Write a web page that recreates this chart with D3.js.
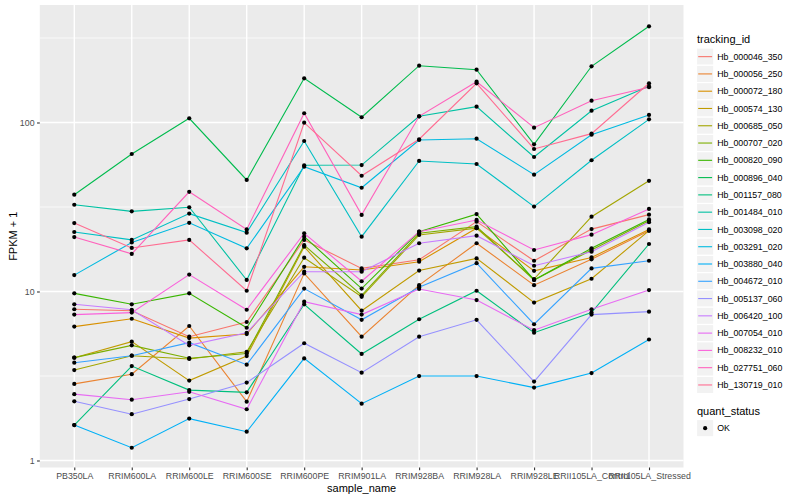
<!DOCTYPE html>
<html>
<head>
<meta charset="utf-8">
<script src="https://cdn.jsdelivr.net/npm/d3@7"></script>
<style>
  body { margin: 0; background: #ffffff; }
  svg { display: block; font-family: "Liberation Sans", Arial, Helvetica, sans-serif; }
</style>
</head>
<body>
<svg id="chart" width="800" height="500"></svg>
<script>
// ---------- data ----------
const samples = ["PB350LA", "RRIM600LA", "RRIM600LE", "RRIM600SE", "RRIM600PE", "RRIM901LA",
  "RRIM928BA", "RRIM928LA", "RRIM928LE", "RRII105LA_Control", "RRII105LA_Stressed"];

const trackingIds = ["Hb_000046_350", "Hb_000056_250", "Hb_000072_180", "Hb_000574_130", "Hb_000685_050",
  "Hb_000707_020", "Hb_000820_090", "Hb_000896_040", "Hb_001157_080", "Hb_001484_010",
  "Hb_003098_020", "Hb_003291_020", "Hb_003880_040", "Hb_004672_010", "Hb_005137_060",
  "Hb_006420_100", "Hb_007054_010", "Hb_008232_010", "Hb_027751_060", "Hb_130719_010"];

const hb_000046_350 = [7.85, 7.7, 5.4, 6.6, 20.2, 13.7, 15.4, 25.9, 15.2, 23.4, 28.5];
const hb_000056_250 = [2.84, 3.24, 6.25, 2.23, 12.8, 5.4, 10.9, 19.3, 10.9, 15.5, 22.9];
const hb_000072_180 = [6.2, 6.9, 5.3, 5.6, 14.0, 13.4, 15.0, 23.7, 13.25, 15.9, 23.3];
const hb_000574_130 = [4.06, 5.05, 2.97, 4.15, 18.4, 7.7, 13.3, 15.7, 8.6, 11.9, 22.9];
const hb_000685_050 = [3.43, 4.17, 3.99, 4.4, 15.85, 9.3, 21.6, 23.7, 11.85, 27.7, 45.2];
const hb_000707_020 = [4.06, 4.8, 4.03, 4.3, 18.8, 9.5, 22.1, 24.2, 11.7, 17.6, 26.2];
const hb_000820_090 = [9.75, 8.4, 9.75, 6.1, 21.1, 10.4, 22.6, 28.7, 11.7, 18.0, 26.7];
const hb_000896_040 = [37.4, 65.1, 105.9, 45.7, 182.6, 107.4, 216.8, 205.3, 74.3, 215.1, 370.9];
const hb_001157_080 = [1.62, 3.62, 2.61, 2.53, 8.4, 4.27, 6.85, 10.1, 5.7, 7.5, 19.1];
const hb_001484_010 = [32.6, 29.8, 31.5, 11.7, 55.8, 56.0, 108.8, 124.0, 62.5, 117.4, 164.0];
const hb_003098_020 = [22.5, 20.2, 28.9, 22.3, 77.7, 21.1, 59.2, 56.8, 31.8, 59.8, 104.4];
const hb_003291_020 = [12.5, 19.5, 25.5, 18.0, 54.8, 41.1, 78.8, 80.2, 49.1, 84.7, 110.8];
const hb_003880_040 = [1.62, 1.19, 1.77, 1.48, 4.02, 2.17, 3.16, 3.16, 2.70, 3.29, 5.2];
const hb_004672_010 = [3.79, 4.17, 4.98, 3.69, 10.4, 6.8, 10.6, 14.7, 6.4, 13.7, 15.2];
const hb_005137_060 = [2.24, 1.88, 2.31, 2.89, 4.94, 3.31, 5.4, 6.8, 2.93, 7.3, 7.6];
const hb_006420_100 = [8.4, 7.8, 4.8, 5.7, 13.1, 13.1, 19.3, 21.4, 14.2, 17.2, 25.7];
const hb_007054_010 = [2.47, 2.29, 2.55, 2.01, 8.7, 7.3, 10.35, 8.9, 5.9, 7.85, 10.2];
const hb_008232_010 = [7.3, 7.5, 12.6, 7.8, 22.1, 11.5, 22.6, 26.5, 17.6, 21.7, 30.8];
const hb_027751_060 = [21.0, 16.7, 38.9, 23.3, 113.4, 28.4, 108.8, 174.3, 93.2, 134.6, 161.6];
const hb_130719_010 = [25.4, 18.1, 20.2, 10.1, 99.7, 48.4, 79.6, 170.6, 69.7, 85.9, 170.6];

const yTicks = [1, 10, 100];
const yMinorTicks = [Math.sqrt(10), Math.sqrt(1000), Math.sqrt(100000)];
const quantStatus = ["OK"];

const seriesValues = [hb_000046_350, hb_000056_250, hb_000072_180, hb_000574_130, hb_000685_050,
  hb_000707_020, hb_000820_090, hb_000896_040, hb_001157_080, hb_001484_010,
  hb_003098_020, hb_003291_020, hb_003880_040, hb_004672_010, hb_005137_060,
  hb_006420_100, hb_007054_010, hb_008232_010, hb_027751_060, hb_130719_010];

const series = trackingIds.map((id, i) => ({
  id, values: seriesValues[i].map((v, j) => ({ sample: samples[j], value: v }))
}));

// ---------- layout ----------
const svg = d3.select("#chart");
const panel = { left: 39.8, right: 683.5, top: 5, bottom: 467.5 };

const hueColors = ["#F8766D", "#EA8331", "#D89000", "#C09B00", "#A3A500", "#7CAE00", "#39B600",
  "#00BB4E", "#00BF7D", "#00C1A3", "#00BFC4", "#00BAE0", "#00B0F6", "#35A2FF", "#9590FF",
  "#C77CFF", "#E76BF3", "#FA62DB", "#FF62BC", "#FF6C91"];
const color = d3.scaleOrdinal().domain(trackingIds).range(hueColors);

const x = d3.scalePoint().domain(samples)
  .range([panel.left, panel.right]).padding(0.6);
const y = d3.scaleLog().domain([0.909, 495.7]).range([panel.bottom, panel.top]);

// panel background
svg.append("rect")
  .attr("x", panel.left).attr("y", panel.top)
  .attr("width", panel.right - panel.left).attr("height", panel.bottom - panel.top)
  .attr("fill", "#EBEBEB");

// grid
const grid = svg.append("g");
grid.selectAll("line.minor").data(yMinorTicks).enter().append("line")
  .attr("x1", panel.left).attr("x2", panel.right)
  .attr("y1", d => y(d)).attr("y2", d => y(d))
  .attr("stroke", "#ffffff").attr("stroke-width", 0.7);
grid.selectAll("line.majy").data(yTicks).enter().append("line")
  .attr("x1", panel.left).attr("x2", panel.right)
  .attr("y1", d => y(d)).attr("y2", d => y(d))
  .attr("stroke", "#ffffff").attr("stroke-width", 1.4);
grid.selectAll("line.majx").data(samples).enter().append("line")
  .attr("x1", d => x(d)).attr("x2", d => x(d))
  .attr("y1", panel.top).attr("y2", panel.bottom)
  .attr("stroke", "#ffffff").attr("stroke-width", 1.4);

// lines
const line = d3.line().x(d => x(d.sample)).y(d => y(d.value));
svg.append("g").selectAll("path").data(series).enter().append("path")
  .attr("d", d => line(d.values))
  .attr("fill", "none")
  .attr("stroke", d => color(d.id))
  .attr("stroke-width", 1.1);

// points
const pts = series.flatMap(s => s.values);
svg.append("g").selectAll("circle").data(pts).enter().append("circle")
  .attr("cx", d => x(d.sample)).attr("cy", d => y(d.value))
  .attr("r", 2.1).attr("fill", "#000000");

// axes
const xAxis = d3.axisBottom(x).tickSize(2.75).tickPadding(2.5);
const gx = svg.append("g").attr("transform", `translate(0,${panel.bottom})`).call(xAxis);
gx.select(".domain").remove();
gx.selectAll(".tick line").attr("stroke", "#333333").attr("stroke-width", 1.1);
gx.selectAll(".tick text").attr("fill", "#4D4D4D").attr("font-size", 8.8)
  .attr("font-family", "Liberation Sans, Arial, sans-serif");

const yAxis = d3.axisLeft(y).tickValues(yTicks).tickFormat(d3.format("d")).tickSize(2.75).tickPadding(2.5);
const gy = svg.append("g").attr("transform", `translate(${panel.left},0)`).call(yAxis);
gy.select(".domain").remove();
gy.selectAll(".tick line").attr("stroke", "#333333").attr("stroke-width", 1.1);
gy.selectAll(".tick text").attr("fill", "#4D4D4D").attr("font-size", 8.8)
  .attr("font-family", "Liberation Sans, Arial, sans-serif");

// axis titles
svg.append("text").attr("x", (panel.left + panel.right) / 2).attr("y", 492)
  .attr("text-anchor", "middle").attr("font-size", 11).attr("fill", "#000")
  .text("sample_name");
svg.append("text")
  .attr("transform", `translate(17,${(panel.top + panel.bottom) / 2}) rotate(-90)`)
  .attr("text-anchor", "middle").attr("font-size", 11).attr("fill", "#000")
  .text("FPKM + 1");

// legend: tracking_id
const lg = svg.append("g");
const keyX = 696.5, keySize = 17.28, key0 = 48;
lg.append("text").attr("x", 697).attr("y", 43).attr("font-size", 11).attr("fill", "#000")
  .text("tracking_id");
const items = lg.selectAll("g.item").data(trackingIds).enter().append("g")
  .attr("transform", (d, i) => `translate(${keyX},${key0 + i * keySize})`);
items.append("rect").attr("width", keySize).attr("height", keySize)
  .attr("fill", "#F2F2F2").attr("stroke", "#ffffff").attr("stroke-width", 1.2);
items.append("line").attr("x1", 1.7).attr("x2", keySize - 1.7)
  .attr("y1", keySize / 2).attr("y2", keySize / 2)
  .attr("stroke", d => color(d)).attr("stroke-width", 1.1);
items.append("text").attr("x", keySize + 3.5).attr("y", keySize / 2 + 3.1)
  .attr("font-size", 8.8).attr("fill", "#000").text(d => d);

// legend: quant_status
const qg = svg.append("g");
qg.append("text").attr("x", 697).attr("y", 415).attr("font-size", 11).attr("fill", "#000")
  .text("quant_status");
const qItems = qg.selectAll("g.q").data(quantStatus).enter().append("g")
  .attr("transform", (d, i) => `translate(${keyX},${419.5 + i * keySize})`);
qItems.append("rect").attr("width", keySize).attr("height", keySize)
  .attr("fill", "#F2F2F2").attr("stroke", "#ffffff").attr("stroke-width", 1.2);
qItems.append("circle").attr("cx", keySize / 2).attr("cy", keySize / 2).attr("r", 2.1).attr("fill", "#000");
qItems.append("text").attr("x", keySize + 3.5).attr("y", keySize / 2 + 3.1)
  .attr("font-size", 8.8).attr("fill", "#000").text(d => d);
</script>
</body>
</html>
